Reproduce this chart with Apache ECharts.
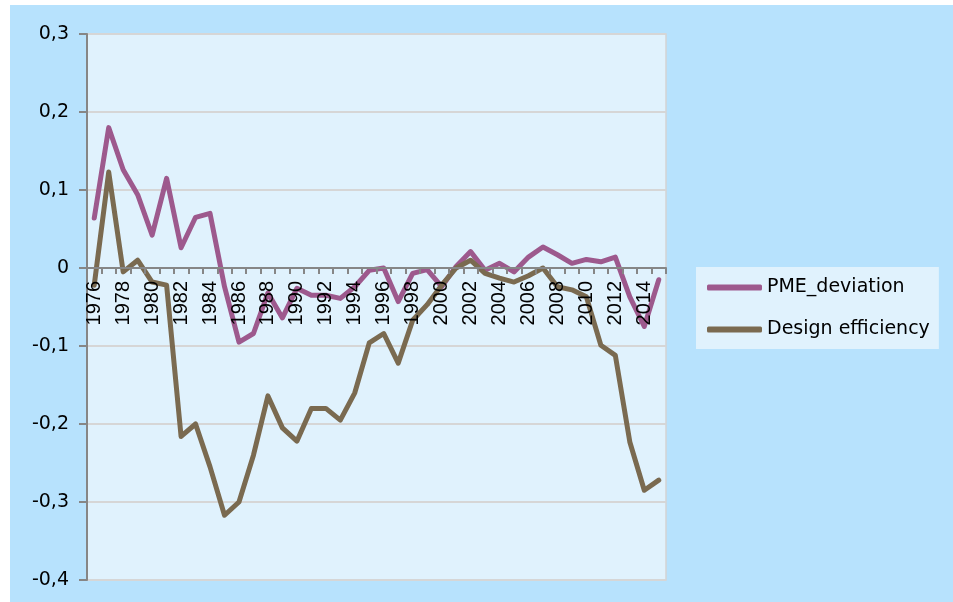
<!DOCTYPE html>
<html>
<head>
<meta charset="utf-8">
<script src="https://cdn.jsdelivr.net/npm/echarts@6/dist/echarts.min.js"></script>
<style>
html,body{margin:0;padding:0;background:#ffffff;}
#chart{width:953px;height:602px;}
</style>
</head>
<body>
<div id="chart"></div>
<script>
var years = [];
for (var y = 1976; y <= 2015; y++) years.push(String(y));

var pmeDeviation = [
  0.064, 0.180, 0.126, 0.094, 0.042, 0.115, 0.026, 0.065, 0.070, -0.024,
  -0.095, -0.084, -0.032, -0.064, -0.026, -0.035, -0.035, -0.039, -0.024, -0.003,
  0.000, -0.043, -0.007, -0.002, -0.024, 0.002, 0.021, -0.003, 0.006, -0.005,
  0.014, 0.027, 0.017, 0.006, 0.011, 0.008, 0.014, -0.037, -0.075, -0.015
];
var designEfficiency = [
  -0.022, 0.123, -0.005, 0.010, -0.018, -0.022, -0.216, -0.200, -0.255, -0.317,
  -0.300, -0.240, -0.164, -0.205, -0.222, -0.180, -0.180, -0.195, -0.160, -0.096,
  -0.084, -0.122, -0.067, -0.047, -0.022, 0.000, 0.010, -0.007, -0.013, -0.018,
  -0.010, 0.000, -0.024, -0.028, -0.037, -0.099, -0.112, -0.223, -0.285, -0.272
];
var seriesNames = ['PME_deviation', 'Design efficiency'];
var yMin = -0.4, yMax = 0.3;
var gridTop = 34, gridBottom = 22, chartH = 602;
var gridH = chartH - gridTop - gridBottom;
var zeroOffset = -gridH * (0 - yMin) / (yMax - yMin);

var chart = echarts.init(document.getElementById('chart'), null, {renderer: 'canvas'});
chart.setOption({
  backgroundColor: '#ffffff',
  animation: false,
  graphic: [{
    type: 'rect', z: -10, silent: true,
    shape: {x: 10, y: 5, width: 943, height: 597},
    style: {fill: '#b7e2fd'}
  }],
  grid: {
    left: 87, top: gridTop, right: 287, bottom: gridBottom,
    outerBoundsMode: 'none', containLabel: false,
    show: true, backgroundColor: '#e0f2fd', borderColor: '#d4d4d4', borderWidth: 1.5
  },
  legend: {
    orient: 'vertical',
    left: 696, top: 267,
    backgroundColor: '#e0f2fd',
    padding: [11, 9, 10, 11],
    itemGap: 23,
    itemWidth: 55, itemHeight: 6,
    icon: 'roundRect',
    textStyle: {fontFamily: 'DejaVu Sans', fontSize: 19, color: '#000'},
    data: seriesNames
  },
  xAxis: {
    type: 'category',
    data: years,
    boundaryGap: true,
    position: 'bottom',
    offset: zeroOffset,
    z: 5,
    axisLine: {onZero: false, lineStyle: {color: '#868686', width: 2}},
    axisTick: {show: true, interval: 0, length: 6, lineStyle: {color: '#868686', width: 2}},
    axisLabel: {
      interval: 1, rotate: 90, margin: 13,
      fontFamily: 'Liberation Sans', fontSize: 20, color: '#000'
    },
    splitLine: {show: false}
  },
  yAxis: {
    type: 'value',
    min: yMin, max: yMax, interval: 0.1,
    axisLine: {show: true, lineStyle: {color: '#868686', width: 2}},
    axisTick: {show: true, length: 8, lineStyle: {color: '#868686', width: 2}},
    axisLabel: {
      margin: 18, fontFamily: 'DejaVu Sans', fontSize: 19, color: '#000',
      formatter: function (v) {
        var r = Math.round(v * 10) / 10;
        if (r === 0) return '0';
        return r.toFixed(1).replace('.', ',');
      }
    },
    splitLine: {show: true, lineStyle: {color: '#d6d6d6', width: 2}}
  },
  series: [
    {
      name: seriesNames[0], type: 'line', data: pmeDeviation,
      symbol: 'none', color: '#9d598d',
      lineStyle: {width: 5, color: '#9d598d', cap: 'round', join: 'round'}
    },
    {
      name: seriesNames[1], type: 'line', data: designEfficiency,
      symbol: 'none', color: '#7a6a50',
      lineStyle: {width: 5, color: '#7a6a50', cap: 'round', join: 'round'}
    }
  ]
});
</script>
</body>
</html>
